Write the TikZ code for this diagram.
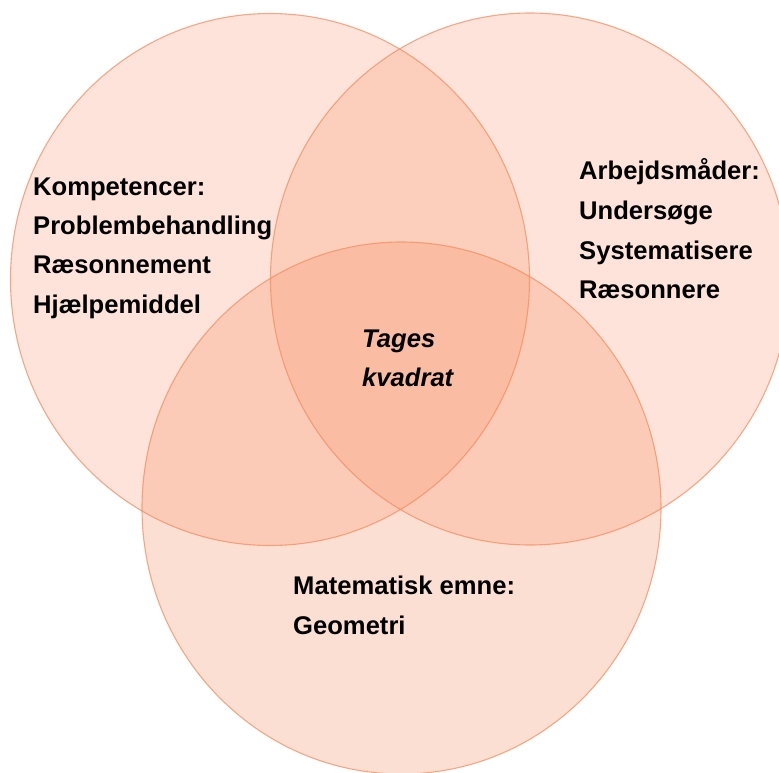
\documentclass[tikz,border=0pt]{standalone}
\usepackage{fontspec}
\setmainfont{Liberation Sans}
\definecolor{venn}{RGB}{246,140,96}
\definecolor{vennline}{RGB}{247,140,95}
\tikzset{
  vcircle/.style={ellipse, draw=vennline, draw opacity=0.75, line width=1.1pt, fill=venn, fill opacity=0.24, inner sep=0pt, minimum width=519pt, minimum height=532pt},
  vtext/.style={anchor=base west, inner sep=0pt, font=\fontsize{25.6}{25.6}\selectfont\bfseries}
}
\usetikzlibrary{shapes.geometric}
\begin{document}
\begin{tikzpicture}[x=1pt,y=-1pt]
\useasboundingbox (0,0) rectangle (779,773);
\node[vcircle] (cl) at (270,279.5) {};
\node[vcircle] (cr) at (530,279) {};
\node[vcircle, fill opacity=0.28] (cb) at (401.5,508) {};
\node[vtext] (k1) at (33,195) {Kompetencer:};
\node[vtext] (k2) at (33,234) {Problembehandling};
\node[vtext] (k3) at (33,273.5) {Ræsonnement};
\node[vtext] (k4) at (33,313) {Hjælpemiddel};
\node[vtext] (a1) at (579,179) {Arbejdsmåder:};
\node[vtext] (a2) at (579,219) {Undersøge};
\node[vtext] (a3) at (579,259) {Systematisere};
\node[vtext] (a4) at (579,298) {Ræsonnere};
\node[vtext, font=\fontsize{25.6}{25.6}\selectfont\bfseries\itshape] (t1) at (362,347) {Tages};
\node[vtext, font=\fontsize{25.6}{25.6}\selectfont\bfseries\itshape] (t2) at (362,386) {kvadrat};
\node[vtext] (m1) at (293,594) {Matematisk emne:};
\node[vtext] (m2) at (293,634) {Geometri};
\end{tikzpicture}
\end{document}
